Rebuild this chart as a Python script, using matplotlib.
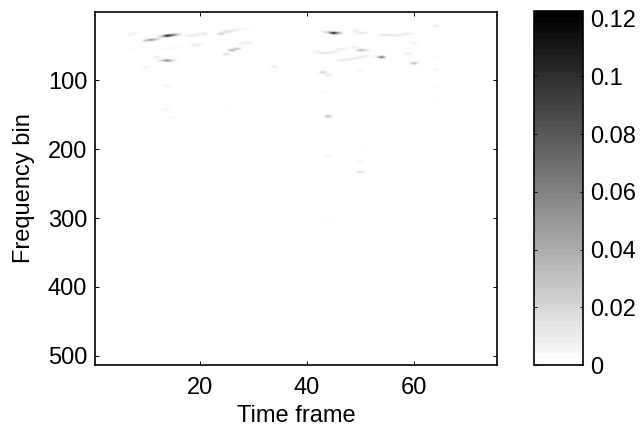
#!/usr/bin/env python3
"""Sparse time-frequency activation map with a gray colorbar."""

import matplotlib

matplotlib.use("Agg")
import matplotlib.pyplot as plt
import numpy as np

N_FRAMES = 75
N_BINS = 513

# non-zero cells
frames = [
    10, 11, 12, 13, 14, 15, 16, 18, 19, 20, 21, 24, 25, 26, 27, 28, 29, 7, 8, 7,
    12, 13, 14, 15, 10, 26, 27, 25, 28, 29, 19, 20, 13, 14, 15, 16, 10, 34, 14, 14,
    15, 25, 43, 44, 45, 46, 49, 50, 51, 54, 55, 56, 57, 58, 59, 64, 42, 43, 44, 45,
    46, 47, 50, 49, 51, 48, 46, 47, 48, 49, 50, 51, 54, 53, 59, 60, 60, 43, 44, 50,
    64, 44, 43, 44, 44, 44, 64, 64, 64, 44, 44, 44, 44, 50, 50, 50, 50, 50,
]
bins = [
    42, 41, 40, 36, 35, 34, 33, 35, 34, 33, 32, 32, 29, 28, 26, 25, 25, 33, 31, 54,
    66, 71, 71, 71, 81, 56, 54, 62, 46, 45, 49, 48, 54, 54, 53, 52, 52, 80, 108, 142,
    154, 139, 29, 30, 31, 31, 28, 31, 31, 34, 34, 34, 35, 33, 32, 21, 59, 60, 60, 59,
    55, 54, 56, 52, 56, 52, 71, 70, 69, 68, 66, 65, 66, 66, 61, 75, 46, 88, 92, 85,
    85, 152, 117, 123, 165, 181, 108, 129, 66, 209, 212, 238, 304, 201, 218, 233, 245, 85,
]
values = [
    0.03, 0.055, 0.025, 0.035, 0.12, 0.08, 0.03, 0.01, 0.012, 0.012, 0.015, 0.03, 0.02, 0.015, 0.01, 0.005, 0.004, 0.006, 0.008, 0.005,
    0.012, 0.025, 0.065, 0.02, 0.008, 0.045, 0.035, 0.02, 0.012, 0.012, 0.012, 0.01, 0.004, 0.004, 0.004, 0.004, 0.004, 0.012, 0.01, 0.007,
    0.004, 0.003, 0.01, 0.03, 0.12, 0.045, 0.012, 0.015, 0.01, 0.012, 0.012, 0.012, 0.015, 0.012, 0.012, 0.012, 0.008, 0.012, 0.012, 0.012,
    0.012, 0.008, 0.04, 0.01, 0.02, 0.005, 0.01, 0.012, 0.012, 0.012, 0.012, 0.012, 0.075, 0.01, 0.012, 0.04, 0.01, 0.025, 0.015, 0.006,
    0.008, 0.04, 0.004, 0.004, 0.003, 0.003, 0.003, 0.003, 0.004, 0.006, 0.004, 0.004, 0.004, 0.003, 0.012, 0.02, 0.003, 0.003,
]
x_ticks = [20, 40, 60]
y_ticks = [100, 200, 300, 400, 500]
cbar_ticks = [0, 0.02, 0.04, 0.06, 0.08, 0.1, 0.12]
cbar_labels = ["0", "0.02", "0.04", "0.06", "0.08", "0.1", "0.12"]
V_MAX = 0.1227

# the source raster is blurred vertically, each cell bleeds into nearby bins
BLUR_OFFSETS = [-2, -1, 0, 1, 2]
BLUR_WEIGHTS = [0.3, 0.7, 1.0, 0.7, 0.3]

plt.rcParams["font.family"] = ["Liberation Sans", "DejaVu Sans"]
plt.rcParams["font.size"] = 17

matrix = np.zeros((N_BINS, N_FRAMES))
for f, b, v in zip(frames, bins, values):
    for offset, weight in zip(BLUR_OFFSETS, BLUR_WEIGHTS):
        row = b - 1 + offset
        matrix[row, f - 1] = max(matrix[row, f - 1], v * weight)

fig = plt.figure(figsize=(6.4, 4.32), dpi=100)
W, H = 640, 432
ax = fig.add_axes([95 / W, 1 - 365 / H, 402 / W, 353 / H])
cax = fig.add_axes([534 / W, 1 - 365 / H, 49 / W, 354 / H])

cmap = plt.get_cmap("gray_r", 64)
im = ax.imshow(
    matrix,
    cmap=cmap,
    vmin=0,
    vmax=V_MAX,
    aspect="auto",
    interpolation="bilinear",
    extent=(0.5, N_FRAMES + 0.5, N_BINS + 0.5, 0.5),
)
ax.set_xticks(x_ticks)
ax.set_yticks(y_ticks)
ax.tick_params(direction="in", length=2.8, width=0.7, top=True, right=True)
ax.tick_params(axis="x", pad=9)
ax.tick_params(axis="y", pad=5.5)
ax.set_xlabel("Time frame", labelpad=4)
ax.set_ylabel("Frequency bin", labelpad=9.5)

cbar = fig.colorbar(im, cax=cax)
cbar.set_ticks(cbar_ticks, labels=cbar_labels)
cbar.ax.tick_params(direction="in", length=2, width=0.7, left=True, right=True, pad=5)
cbar.outline.set_linewidth(1.2)
for spine in ax.spines.values():
    spine.set_linewidth(1.2)

fig.savefig("out.png", dpi=100)
